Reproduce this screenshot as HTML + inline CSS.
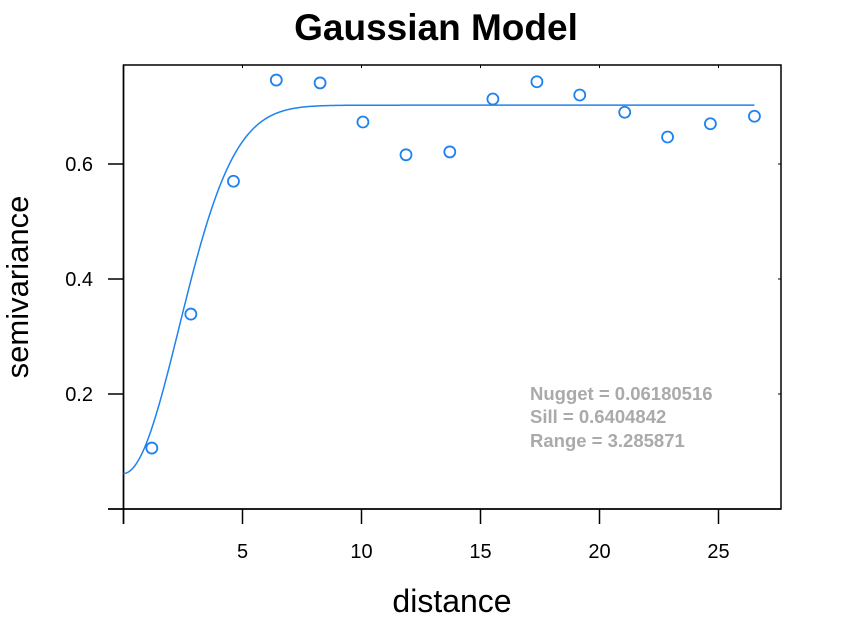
<!DOCTYPE html>
<html><head><meta charset="utf-8"><style>
body{margin:0;background:#fff}
svg{display:block;font-family:"Liberation Sans",Arial,sans-serif}
</style></head><body>
<svg id="chart" width="846" height="620">
<text x="436" y="40" text-anchor="middle" font-size="37" font-weight="bold">Gaussian Model</text>
<text x="452" y="612" text-anchor="middle" font-size="32">distance</text>
<text transform="translate(28,287) rotate(-90)" text-anchor="middle" font-size="31">semivariance</text>
<rect x="123.5" y="65" width="657.5" height="444" fill="none" stroke="#000" stroke-width="1.5"/>
<g id="axes"></g>
<path id="curve" fill="none" stroke="#1e82f0" stroke-width="1.5"/>
<g id="pts"></g>
<g font-size="18.5" font-weight="bold" fill="#aaaaaa">
<text x="530" y="400">Nugget = 0.06180516</text>
<text x="530" y="423">Sill = 0.6404842</text>
<text x="530" y="447">Range = 3.285871</text>
</g>
</svg>
<script>
const distances=[1.19,2.83,4.62,6.42,8.26,10.06,11.87,13.71,15.52,17.37,19.17,21.06,22.86,24.66,26.51];
const gammas=[0.106,0.339,0.570,0.746,0.741,0.673,0.616,0.621,0.713,0.743,0.720,0.690,0.647,0.670,0.683];
const xTicks=[0,5,10,15,20,25];
const xTickLabels=["","5","10","15","20","25"];
const yTicks=[0,0.2,0.4,0.6];
const yTickLabels=["","0.2","0.4","0.6"];
const nugget=0.06180516, sill=0.6404842, rangeParam=3.285871;
const sx=v=>123.5+v*23.8, sy=v=>509-v*575;
const NS="http://www.w3.org/2000/svg";
const ax=document.getElementById('axes');
function mk(tag,attrs,parent){const e=document.createElementNS(NS,tag);for(const k in attrs)e.setAttribute(k,attrs[k]);parent.appendChild(e);return e;}
mk('line',{x1:108,x2:781,y1:509,y2:509,stroke:'#000','stroke-width':1.5},ax);
mk('line',{x1:123.5,x2:123.5,y1:65,y2:524,stroke:'#000','stroke-width':1.5},ax);
xTicks.forEach((t,i)=>{
 const l=mk('line',{x1:sx(t),x2:sx(t),y1:509,y2:524,stroke:'#000','stroke-width':1.5},ax);
 
 
 mk('line',{x1:sx(t),x2:sx(t),y1:65,y2:68,stroke:'#000','stroke-width':1},ax);
 if(xTickLabels[i]){const tx=mk('text',{x:sx(t),y:558,'text-anchor':'middle','font-size':20},ax);tx.textContent=xTickLabels[i];
 
 }
});
yTicks.forEach((t,i)=>{
 const l=mk('line',{x1:108,x2:123.5,y1:sy(t),y2:sy(t),stroke:'#000','stroke-width':1.5},ax);
 
 
 mk('line',{x1:778,x2:781,y1:sy(t),y2:sy(t),stroke:'#000','stroke-width':1},ax);
 if(yTickLabels[i]){const tx=mk('text',{x:93,y:sy(t)+7,'text-anchor':'end','font-size':20},ax);tx.textContent=yTickLabels[i];
 
 }
});
let dStr='';
const hmax=distances[distances.length-1];
for(let i=0;i<=300;i++){const h=hmax*i/300;const g=nugget+sill*(1-Math.exp(-Math.pow(h/rangeParam,2)));dStr+=(i?'L':'M')+sx(h).toFixed(2)+','+sy(g).toFixed(2);}
document.getElementById('curve').setAttribute('d',dStr);
const pg=document.getElementById('pts');
distances.forEach((h,i)=>{
 const c=mk('circle',{cx:sx(h),cy:sy(gammas[i]),r:5.5,fill:'#fff',stroke:'#1e82f0','stroke-width':1.8},pg);
 
 
});
</script>
</body></html>
